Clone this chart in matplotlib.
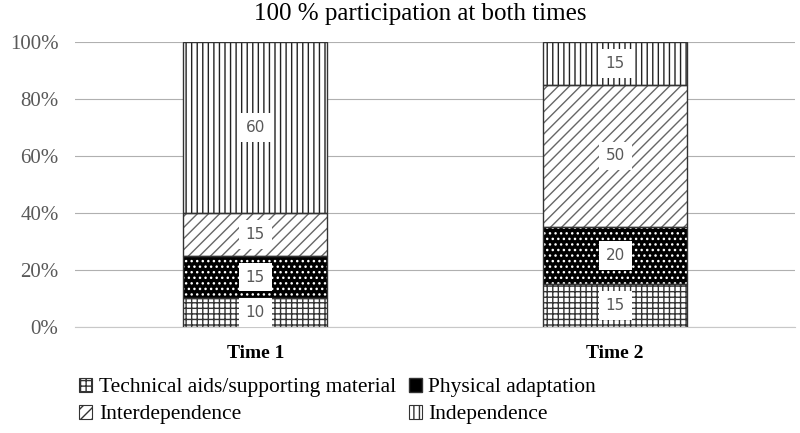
import numpy as np
import matplotlib.pyplot as plt
from matplotlib.patches import Patch

categories = ['Time 1', 'Time 2']
series_names = ['Technical aids/supporting material', 'Physical adaptation',
                'Interdependence', 'Independence']
technical = [10, 15]
physical = [15, 20]
interdep = [15, 50]
independ = [60, 15]
values = [technical, physical, interdep, independ]
yticks = [0, 20, 40, 60, 80, 100]

plt.rcParams['font.family'] = ['Liberation Serif', 'DejaVu Serif']
plt.rcParams['hatch.linewidth'] = 1.0

fig = plt.figure(figsize=(8, 4.33), dpi=100)
ax = fig.add_axes([0.094, 0.245, 0.9, 0.658])

x = np.arange(len(categories))
width = 0.4
styles = [
    dict(facecolor='white', hatch='+++', edgecolor='#333333'),
    dict(facecolor='black', hatch='...', edgecolor='white'),
    dict(facecolor='white', hatch='///', edgecolor='#666666'),
    dict(facecolor='white', hatch='|||', edgecolor='#222222'),
]

bottom = np.zeros(len(categories))
for vals, st in zip(values, styles):
    vals = np.array(vals, dtype=float)
    ax.bar(x, vals, width, bottom=bottom, linewidth=0, zorder=2, **st)
    ax.bar(x, vals, width, bottom=bottom, facecolor='none', edgecolor='#333333',
           linewidth=1.0, zorder=3)
    for xi, b, v in zip(x, bottom, vals):
        ax.text(xi, b + v / 2, f'{int(v)}', ha='center', va='center',
                fontsize=11, color='#595959', family='DejaVu Sans', zorder=4,
                bbox=dict(facecolor='white', edgecolor='none', pad=5))
    bottom += vals

ax.set_xlim(-0.5, 1.5)
ax.set_ylim(0, 100)
ax.set_yticks(yticks)
ax.set_yticklabels([f'{t}%' for t in yticks], fontsize=15, color='#595959')
ax.set_xticks(x)
ax.set_xticklabels(categories, fontsize=14, fontweight='bold')
ax.tick_params(axis='y', length=0, pad=12)
ax.tick_params(axis='x', length=0, pad=13)
ax.yaxis.grid(True, color='#b0b0b0', linewidth=0.8, zorder=0)
for s in ['top', 'right', 'left']:
    ax.spines[s].set_visible(False)
ax.spines['bottom'].set_color('#c8c8c8')
fig.text(0.525, 1 - 14 / 433, '100 % participation at both times', fontsize=18,
         ha='center', va='center')

handles = [Patch(label=n, linewidth=0.8, **{**st, 'edgecolor': '#333333'}) for n, st in zip(series_names, styles)]
handles[1] = Patch(label=series_names[1], facecolor='black', edgecolor='#333333')
leg = fig.legend(handles=[handles[0], handles[2], handles[1], handles[3]], ncol=2,
                 loc='lower left', bbox_to_anchor=(0.075, -0.025), frameon=False,
                 fontsize=15.5, handlelength=0.6, handleheight=0.6, handletextpad=0.3,
                 columnspacing=0.6, labelspacing=0.35)

fig.savefig('out.png', dpi=100)
